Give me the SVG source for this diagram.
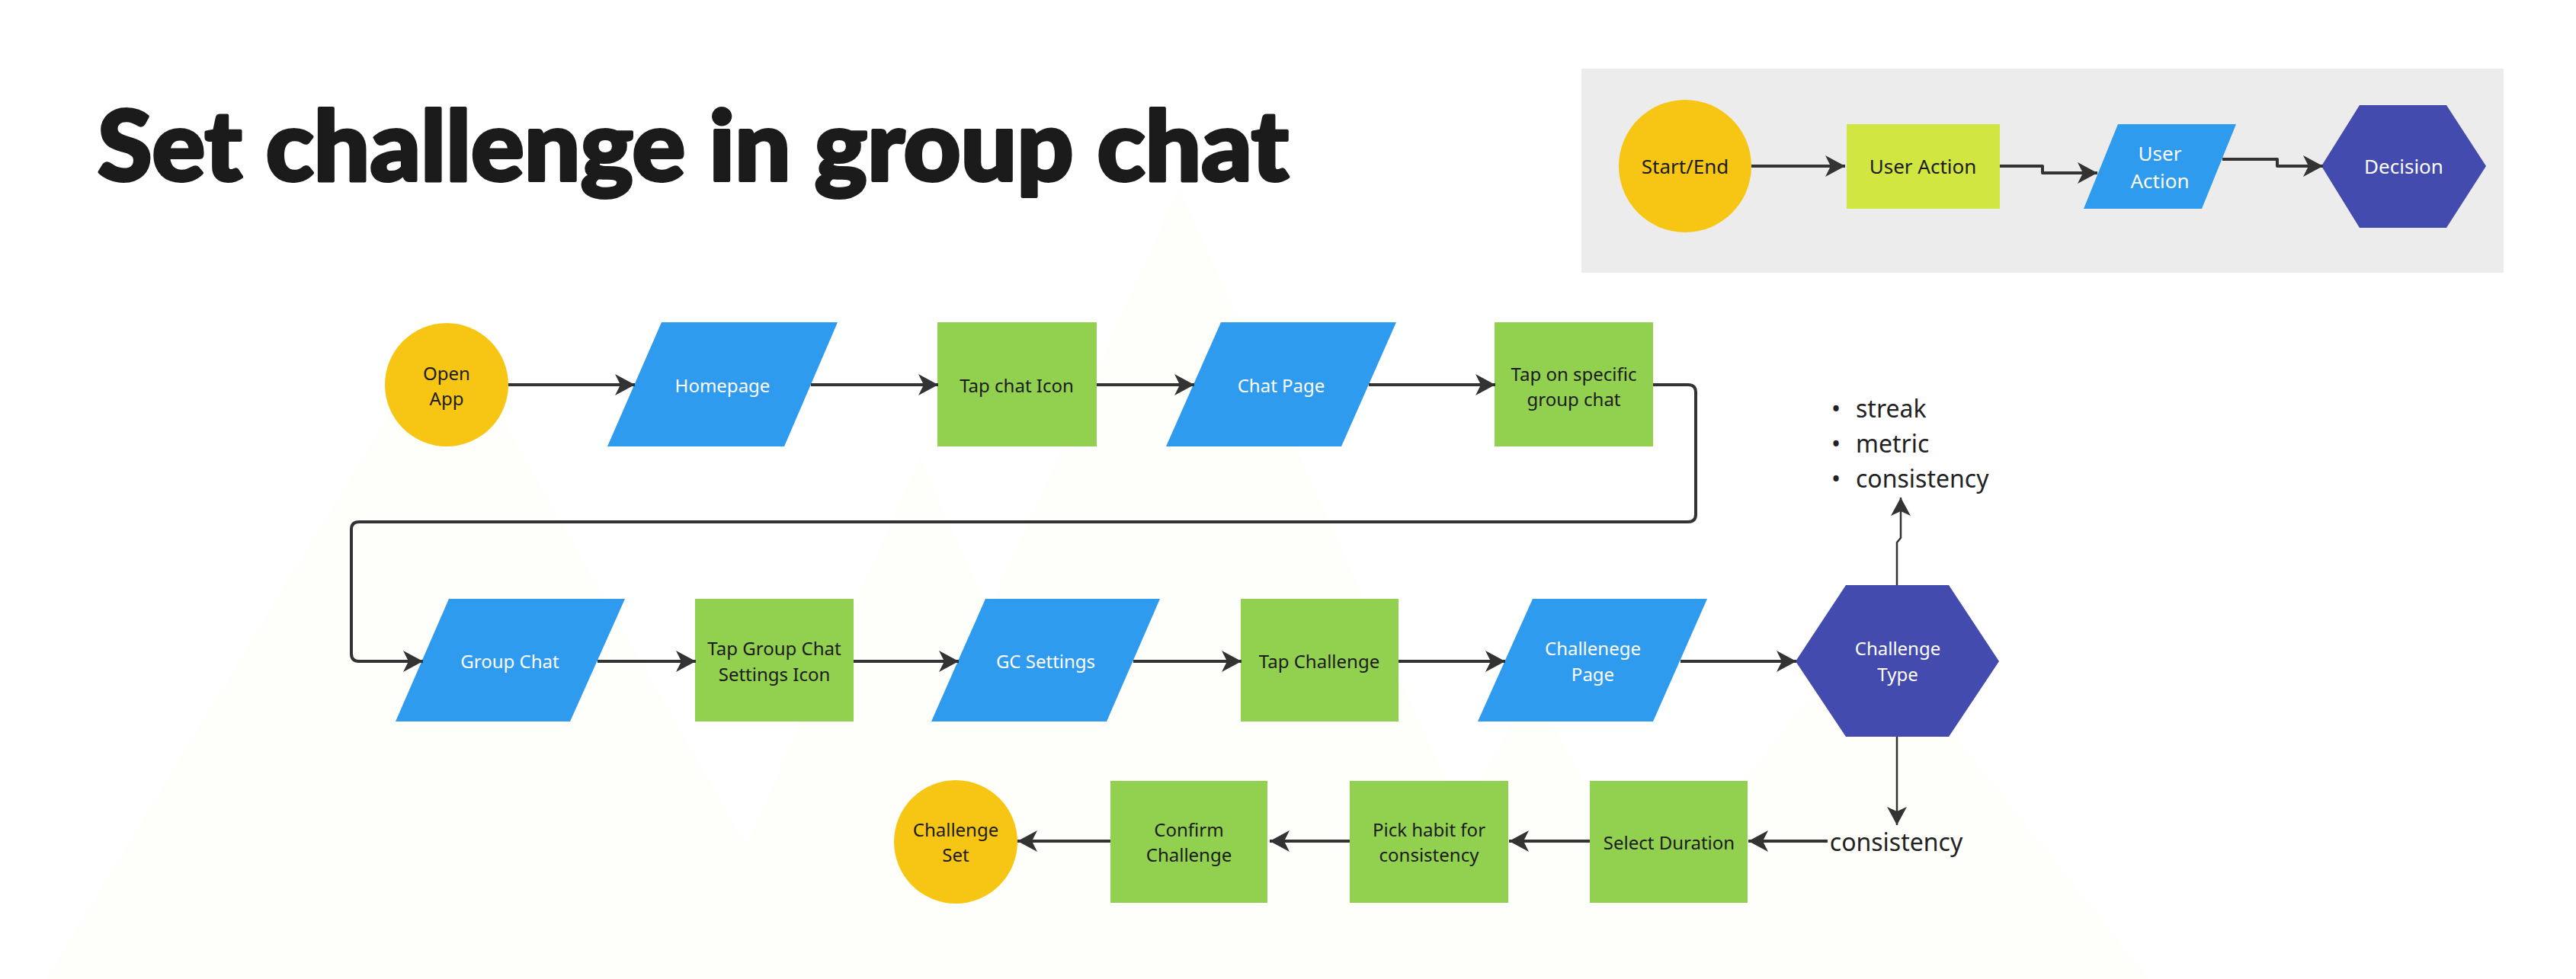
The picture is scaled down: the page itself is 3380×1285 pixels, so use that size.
<svg xmlns="http://www.w3.org/2000/svg" width="3380" height="1285" viewBox="0 0 3380 1285">
<style>
.lbl{font-family:"Noto Sans","Open Sans","Liberation Sans",sans-serif;font-size:24px;text-anchor:middle;dominant-baseline:central}
.dk{fill:#1b1b1b}
.wh{fill:#ffffff}
.lg{font-size:26px}
.term{fill:#f7c614}
.io{fill:#2f9bef}
.act{fill:#92d050}
.dec{fill:#434bae}
.conn{fill:none;stroke:#333333;stroke-width:4;stroke-linejoin:round}
.thin{fill:none;stroke:#333333;stroke-width:2.5;stroke-linejoin:round}
.plain{font-family:"Noto Sans","Open Sans","Liberation Sans",sans-serif;font-size:32px;fill:#222222}
.bg{fill:#fefefa}
</style>
<defs>
<marker id="arr" markerUnits="userSpaceOnUse" viewBox="0 0 26 28" refX="26" refY="14" markerWidth="26" markerHeight="28" orient="auto">
<path d="M0,0 L26,14 L0,28 L7,14 Z" fill="#333333"/>
</marker>
<marker id="arrS" markerUnits="userSpaceOnUse" viewBox="0 0 24 26" refX="24" refY="13" markerWidth="24" markerHeight="26" orient="auto">
<path d="M0,0 L24,13 L0,26 L6,13 Z" fill="#333333"/>
</marker>
</defs>
<rect width="3380" height="1285" fill="#ffffff"/>
<g id="background">
<polygon class="bg" points="585,420 60,1285 1080,1285"/>
<polygon class="bg" points="1547,245 1080,1285 2015,1285"/>
<polygon class="bg" points="1207,600 900,1285 1515,1285"/>
<polygon class="bg" points="2450,820 2080,1285 2820,1285"/>
<polygon class="bg" points="2010,900 1800,1285 2220,1285"/>
</g>
<text id="title" x="128" y="237" font-family="Lato,'Noto Sans','Liberation Sans',sans-serif" font-weight="900" font-size="128" fill="#1b1b1b" stroke="#1b1b1b" stroke-width="4" stroke-linejoin="round" textLength="1563" lengthAdjust="spacingAndGlyphs">Set challenge in group chat</text>
<g id="legend">
<rect x="2075" y="90" width="1210" height="268" fill="#ececec"/>
<g id="legend-start"><circle class="term" cx="2211" cy="218" r="87"/><text class="lbl lg dk" x="2211" y="218">Start/End</text></g>
<g id="legend-action"><rect x="2423" y="163" width="201" height="111" fill="#d1e641"/><text class="lbl lg dk" x="2523" y="218">User Action</text></g>
<g id="legend-io"><polygon class="io" points="2779,163 2934,163 2889,274 2734,274"/><text class="lbl lg wh" x="2834" y="201">User</text><text class="lbl lg wh" x="2834" y="237">Action</text></g>
<g id="legend-decision"><polygon class="dec" points="3046,218 3096,138 3210,138 3262,218 3210,299 3096,299"/><text class="lbl lg wh" x="3154" y="218">Decision</text></g>
<g id="legend-connectors">
<path class="conn" d="M2298,218 L2421,218" marker-end="url(#arr)"/>
<path class="conn" d="M2624,218 L2680,218 L2680,227 L2752,227" marker-end="url(#arr)"/>
<path class="conn" d="M2916,209 L2988,209 L2988,218 L3048,218" marker-end="url(#arr)"/>
</g>
</g>
<g id="n-open-app"><circle class="term" cx="586" cy="505" r="81"/><text class="lbl dk" x="586" y="489">Open</text><text class="lbl dk" x="586" y="522">App</text></g>
<g id="n-homepage"><polygon class="io" points="868,423 1099,423 1029,586 797,586"/><text class="lbl wh" x="948" y="505">Homepage</text></g>
<g id="n-tap-chat-icon"><rect class="act" x="1230" y="423" width="209" height="163"/><text class="lbl dk" x="1334" y="505">Tap chat Icon</text></g>
<g id="n-chat-page"><polygon class="io" points="1602,423 1832,423 1760,586 1530,586"/><text class="lbl wh" x="1681" y="505">Chat Page</text></g>
<g id="n-tap-specific"><rect class="act" x="1961" y="423" width="208" height="163"/><text class="lbl dk" x="2065" y="490">Tap on specific</text><text class="lbl dk" x="2065" y="523">group chat</text></g>
<g id="n-group-chat"><polygon class="io" points="589,786 820,786 748,947 519,947"/><text class="lbl wh" x="669" y="867">Group Chat</text></g>
<g id="n-tap-gc-settings"><rect class="act" x="912" y="786" width="208" height="161"/><text class="lbl dk" x="1016" y="850">Tap Group Chat</text><text class="lbl dk" x="1016" y="884">Settings Icon</text></g>
<g id="n-gc-settings"><polygon class="io" points="1293,786 1522,786 1452,947 1222,947"/><text class="lbl wh" x="1372" y="867">GC Settings</text></g>
<g id="n-tap-challenge"><rect class="act" x="1628" y="786" width="207" height="161"/><text class="lbl dk" x="1731" y="867">Tap Challenge</text></g>
<g id="n-challenge-page"><polygon class="io" points="2011,786 2240,786 2169,947 1939,947"/><text class="lbl wh" x="2090" y="850">Challenege</text><text class="lbl wh" x="2090" y="884">Page</text></g>
<g id="n-challenge-type"><polygon class="dec" points="2356,868 2422,768 2557,768 2623,868 2557,967 2422,967"/><text class="lbl wh" x="2490" y="850" font-size="22">Challenge</text><text class="lbl wh" x="2490" y="884" font-size="22">Type</text></g>
<g id="n-types-list">
<text class="plain" x="2403" y="548">•</text><text class="plain" x="2435" y="548">streak</text>
<text class="plain" x="2403" y="594">•</text><text class="plain" x="2435" y="594">metric</text>
<text class="plain" x="2403" y="640">•</text><text class="plain" x="2435" y="640">consistency</text>
</g>
<g id="n-consistency"><text class="plain" x="2488" y="1104" text-anchor="middle" dominant-baseline="central">consistency</text></g>
<g id="n-select-duration"><rect class="act" x="2086" y="1025" width="207" height="160"/><text class="lbl dk" x="2190" y="1105">Select Duration</text></g>
<g id="n-pick-habit"><rect class="act" x="1771" y="1025" width="208" height="160"/><text class="lbl dk" x="1875" y="1088">Pick habit for</text><text class="lbl dk" x="1875" y="1121">consistency</text></g>
<g id="n-confirm"><rect class="act" x="1457" y="1025" width="206" height="160"/><text class="lbl dk" x="1560" y="1088">Confirm</text><text class="lbl dk" x="1560" y="1121">Challenge</text></g>
<g id="n-challenge-set"><circle class="term" cx="1254" cy="1105" r="81"/><text class="lbl dk" x="1254" y="1088">Challenge</text><text class="lbl dk" x="1254" y="1121">Set</text></g>
<g id="connectors">
<path class="conn" d="M667,505 L833,505" marker-end="url(#arr)"/>
<path class="conn" d="M1064,505 L1231,505" marker-end="url(#arr)"/>
<path class="conn" d="M1439,505 L1567,505" marker-end="url(#arr)"/>
<path class="conn" d="M1796,505 L1962,505" marker-end="url(#arr)"/>
<path class="conn" d="M2169,505 L2215,505 Q2225,505 2225,515 L2225,675 Q2225,685 2215,685 L471,685 Q461,685 461,695 L461,858 Q461,868 471,868 L555,868" marker-end="url(#arr)"/>
<path class="conn" d="M784,868 L913,868" marker-end="url(#arr)"/>
<path class="conn" d="M1120,868 L1258,868" marker-end="url(#arr)"/>
<path class="conn" d="M1487,868 L1629,868" marker-end="url(#arr)"/>
<path class="conn" d="M1835,868 L1975,868" marker-end="url(#arr)"/>
<path class="conn" d="M2205,868 L2357,868" marker-end="url(#arr)"/>
<path class="thin" d="M2489,768 L2489,712 L2494,706 L2494,653" marker-end="url(#arrS)"/>
<path class="thin" d="M2489,967 L2489,1083" marker-end="url(#arrS)"/>
<path class="conn" d="M2398,1104 L2294,1104" marker-end="url(#arr)"/>
<path class="conn" d="M2086,1104 L1980,1104" marker-end="url(#arr)"/>
<path class="conn" d="M1771,1104 L1666,1104" marker-end="url(#arr)"/>
<path class="conn" d="M1457,1104 L1335,1104" marker-end="url(#arr)"/>
</g>
</svg>
